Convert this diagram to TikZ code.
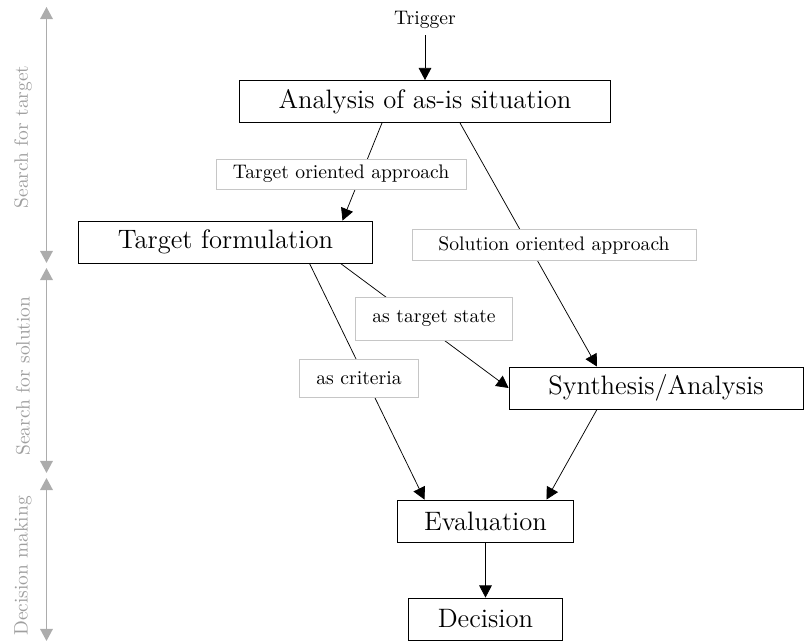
\documentclass[tikz,border=0pt]{standalone}
\usepackage{tikz}
\usetikzlibrary{arrows.meta,positioning,calc}

\begin{document}
\begin{tikzpicture}[
            x=0.019cm, y=-0.019cm,
            box/.style={draw, rectangle, fill=white, inner xsep=0.75cm, minimum height=0.8cm, font=\Large},
            lbl/.style={draw=gray!45, rectangle, fill=white, inner xsep=0.32cm, minimum height=0.48cm, font=\fontsize{10.6}{13}\selectfont},
            phase/.style={gray!75, font=\fontsize{10.5}{13}\selectfont},
            flow/.style={-{Triangle[length=0.23cm, width=0.24cm]}},
            span/.style={{Triangle[length=0.23cm, width=0.24cm]}-{Triangle[length=0.23cm, width=0.24cm]}, draw=gray!65, thick}
        ]
            \useasboundingbox (0,0) rectangle (804,641);

            % phases on the left
            \coordinate (t0) at (46.5,7);
            \coordinate (t1) at (46.5,263);
            \coordinate (s0) at (46.5,268);
            \coordinate (s1) at (46.5,473);
            \coordinate (d0) at (46.5,478);
            \coordinate (d1) at (46.5,641);
            \draw[span] (t0) -- (t1);
            \draw[span] (s0) -- (s1);
            \draw[span] (d0) -- (d1);
            \node[phase, rotate=90] (ptarget) at (23,137) {Search for target};
            \node[phase, rotate=90] (psolution) at (23,376) {Search for solution};
            \node[phase, rotate=90] (pdecision) at (23,566) {Decision making};

            % main boxes
            \node[font=\fontsize{10.6}{13}\selectfont] (trigger) at (425,20) {Trigger};
            \node[box] (analysis) at (425,101.5) {Analysis of as-is situation};
            \node[box] (target) at (225.5,242) {Target formulation};
            \node[box] (synth) at (656,388) {Synthesis/Analysis};
            \node[box, inner xsep=0.5cm] (eval) at (485.5,521) {Evaluation};
            \node[box, inner xsep=0.55cm] (decision) at (485.5,619) {Decision};

            % connectors
            \draw[flow] (trigger) -- (analysis);
            \draw[flow] ($(analysis.south)+(-43,0)$) -- ($(target.north)+(117,0)$);
            \draw[flow] ($(analysis.south)+(35,0)$) -- ($(synth.north)+(-59,0)$);
            \draw[flow] ($(target.south)+(84,0)$) -- ($(eval.north)+(-61,0)$);
            \draw[flow] ($(target.south)+(115,0)$) -- (synth.west);
            \draw[flow] ($(synth.south)+(-59,0)$) -- ($(eval.north)+(61,0)$);
            \draw[flow] (eval) -- (decision);

            % labels on the connectors
            \node[lbl] (ltarget) at (341,174) {Target oriented approach};
            \node[lbl, inner xsep=0.5cm, minimum height=0.59cm] (lsolution) at (554,245) {Solution oriented approach};
            \node[lbl, minimum height=0.82cm] (lstate) at (434,318.5) {as target state};
            \node[lbl, minimum height=0.72cm] (lcriteria) at (359,378) {as criteria};
        \end{tikzpicture}
\end{document}
